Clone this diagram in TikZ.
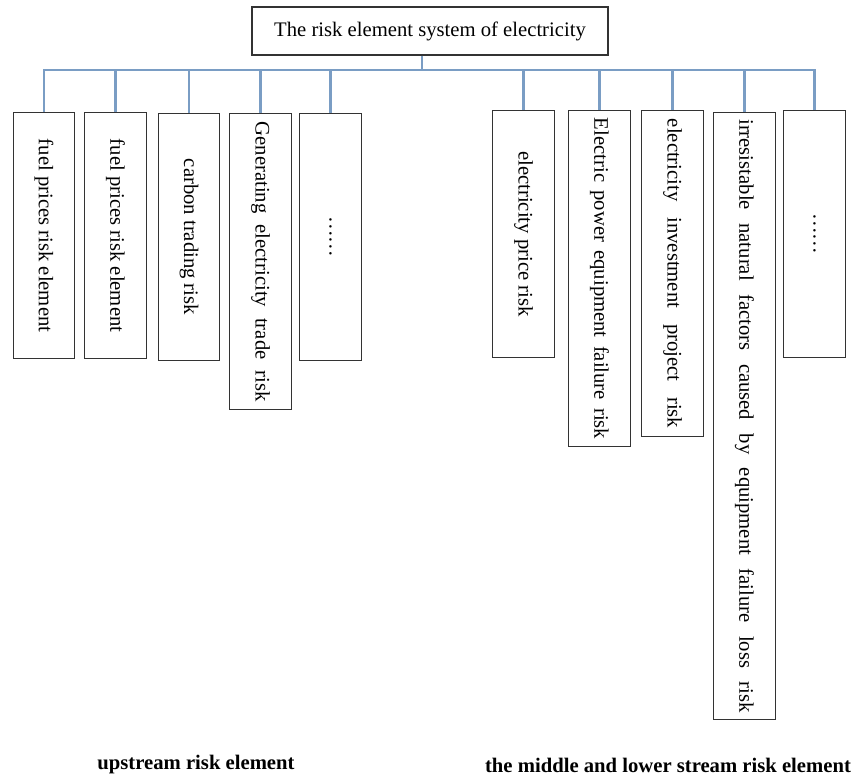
\documentclass[tikz,border=0pt]{standalone}
\usepackage{fontspec}
\setmainfont{Liberation Serif}
\usepackage{graphicx}
\definecolor{linkblue}{RGB}{122,157,196}

\begin{document}
\begin{tikzpicture}[x=0.75pt, y=-0.75pt,
    font=\fontsize{15.5}{18}\selectfont,
    riskbox/.style={draw=black!80, line width=0.9pt, minimum width=46pt, inner sep=0pt, anchor=north},
    link/.style={draw=linkblue, line width=2.2pt}]
  \useasboundingbox (0,0) rectangle (855,777);

  % Top of the tree
  \node[draw=black!80, line width=0.9pt, minimum width=267pt, minimum height=36pt, inner sep=0pt] (root) at (430,31) {The risk element system of electricity};
  \coordinate (trunk) at (422,70);

  % Upstream boxes
  \node[riskbox, minimum height=184.5pt] (up1) at (44,112) {\rotatebox{-90}{fuel prices risk element}};
  \node[riskbox, minimum height=184.5pt] (up2) at (115.5,112) {\rotatebox{-90}{fuel prices risk element}};
  \node[riskbox, minimum height=185pt] (up3) at (189,113) {\rotatebox{-90}{carbon trading risk}};
  \node[riskbox, minimum height=222pt] (up4) at (260.5,113) {\rotatebox{-90}{\makebox[210pt][s]{Generating electricity trade risk}}};
  \node[riskbox, minimum height=185pt] (up5) at (330.5,113) {\rotatebox{-90}{……}};

  % Middle and lower stream boxes
  \node[riskbox, minimum height=185pt] (low1) at (523.5,110) {\rotatebox{-90}{electricity price risk}};
  \node[riskbox, minimum height=252pt] (low2) at (599.5,110) {\rotatebox{-90}{\makebox[241pt][s]{Electric power equipment failure risk}}};
  \node[riskbox, minimum height=244.5pt] (low3) at (672.5,110) {\rotatebox{-90}{\makebox[232pt][s]{electricity investment project risk}}};
  \node[riskbox, minimum height=455pt] (low4) at (744.5,112) {\rotatebox{-90}{\makebox[445pt][s]{irresistable natural factors caused by equipment failure loss risk}}};
  \node[riskbox, minimum height=185pt] (low5) at (814.5,110) {\rotatebox{-90}{……}};

  % Connectors
  \draw[link] (root.south -| trunk) -- (trunk);
  \foreach \b in {up1,up2,up3,up4,up5,low1,low2,low3,low4,low5}
    \draw[link] (trunk) -| (\b.north);

  % Group names
  \node[font=\fontsize{15.5}{18}\selectfont\bfseries] (upname) at (196,765) {upstream risk element};
  \node[font=\fontsize{15.5}{18}\selectfont\bfseries] (lowname) at (668,765) {the middle and lower stream risk element};
\end{tikzpicture}
\end{document}
